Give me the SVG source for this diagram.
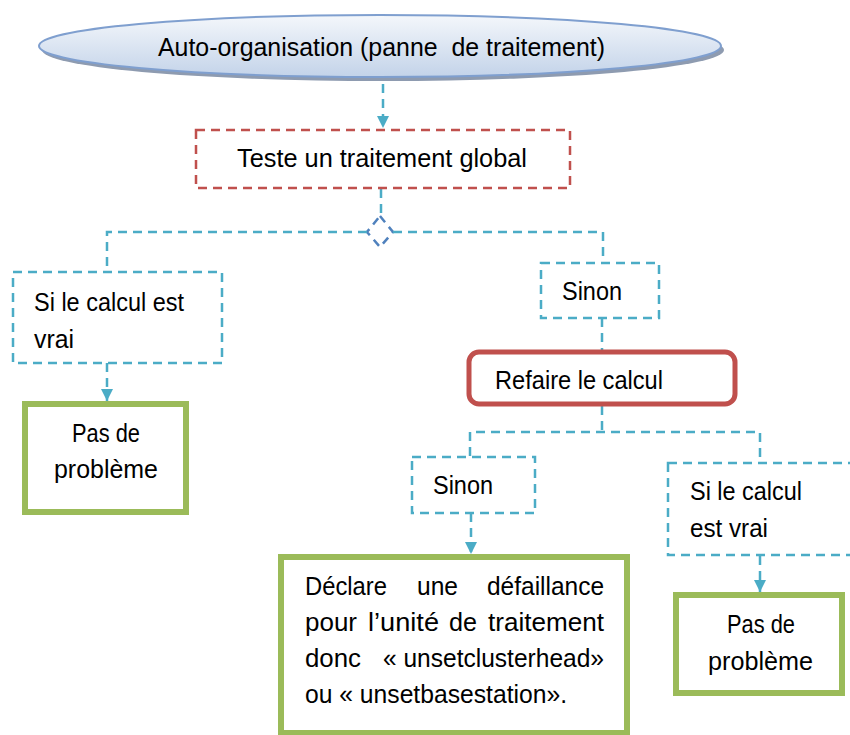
<svg xmlns="http://www.w3.org/2000/svg" width="850" height="735" viewBox="0 0 850 735">
<defs>
<linearGradient id="eg" x1="0" y1="0" x2="0" y2="1">
<stop offset="0" stop-color="#f4f7fb"/>
<stop offset="1" stop-color="#c3d3e9"/>
</linearGradient>
<marker id="ah" viewBox="0 0 10 10" refX="10" refY="5" markerWidth="5" markerHeight="5" markerUnits="strokeWidth" orient="auto">
<path d="M0,0 L10,5 L0,10 Z" fill="#4bacc6"/>
</marker>
<style>
.t{font-family:"Liberation Sans",Arial,sans-serif;font-size:25.5px;fill:#000}
.c{fill:none;stroke:#4bacc6;stroke-width:2.5;stroke-dasharray:9 6}
.db{fill:#fff;stroke:#4bacc6;stroke-width:2.5;stroke-dasharray:9 6}
.g{fill:#fff;stroke:#9bbb59;stroke-width:6}
</style>
</defs>
<rect width="850" height="735" fill="#fff"/>

<g id="connectors">
<line class="c" x1="383" y1="84" x2="383" y2="128" marker-end="url(#ah)"/>
<line class="c" x1="381" y1="189" x2="381" y2="216"/>
<polygon points="380,216 393,232 380,247 367,232" fill="none" stroke="#4f81bd" stroke-width="2.5" stroke-dasharray="8 6"/>
<polyline class="c" points="367,232 107,232 107,271"/>
<polyline class="c" points="393,232 603,232 603,263"/>
<line class="c" x1="107" y1="363" x2="107" y2="401" marker-end="url(#ah)"/>
<line class="c" x1="602" y1="318" x2="602" y2="350"/>
<line class="c" x1="602" y1="406" x2="602" y2="432"/>
<polyline class="c" points="470,456 470,432 760,432 760,462"/>
<line class="c" x1="471" y1="513" x2="471" y2="554" marker-end="url(#ah)"/>
<line class="c" x1="760" y1="556" x2="760" y2="592" marker-end="url(#ah)"/>
</g>

<g id="n-title">
<ellipse cx="383" cy="50" rx="341" ry="31" fill="#8e9bb0"/>
<ellipse cx="380" cy="46" rx="341" ry="31" fill="url(#eg)" stroke="#7f9fcf" stroke-width="2"/>
<text class="t" x="158" y="56" textLength="447" lengthAdjust="spacingAndGlyphs" xml:space="preserve">Auto-organisation (panne  de traitement)</text>
</g>

<g id="n-teste">
<rect x="196" y="130" width="374" height="58" fill="#fff" stroke="#c0504d" stroke-width="2.5" stroke-dasharray="9 6"/>
<text class="t" x="237" y="167" textLength="290" lengthAdjust="spacingAndGlyphs">Teste un traitement global</text>
</g>

<g id="n-si1">
<rect class="db" x="13" y="272" width="209" height="91"/>
<text class="t" x="34" y="311" textLength="150" lengthAdjust="spacingAndGlyphs">Si le calcul est</text>
<text class="t" x="34" y="348" textLength="40" lengthAdjust="spacingAndGlyphs">vrai</text>
</g>

<g id="n-pas1">
<rect class="g" x="25" y="404" width="161" height="108"/>
<text class="t" x="72" y="442" textLength="68" lengthAdjust="spacingAndGlyphs">Pas de</text>
<text class="t" x="54" y="478" textLength="104" lengthAdjust="spacingAndGlyphs">problème</text>
</g>

<g id="n-sinon1">
<rect class="db" x="541" y="263" width="118" height="55"/>
<text class="t" x="562" y="300" textLength="60" lengthAdjust="spacingAndGlyphs">Sinon</text>
</g>

<g id="n-refaire">
<rect x="469" y="352" width="266" height="52" rx="10" ry="10" fill="#fff" stroke="#c0504d" stroke-width="5"/>
<text class="t" x="495" y="389" textLength="168" lengthAdjust="spacingAndGlyphs">Refaire le calcul</text>
</g>

<g id="n-sinon2">
<rect class="db" x="412" y="457" width="123" height="56"/>
<text class="t" x="433" y="494" textLength="60" lengthAdjust="spacingAndGlyphs">Sinon</text>
</g>

<g id="n-si2">
<rect class="db" x="668" y="463" width="190" height="92"/>
<text class="t" x="690" y="500" textLength="112" lengthAdjust="spacingAndGlyphs">Si le calcul</text>
<text class="t" x="690" y="537" textLength="78" lengthAdjust="spacingAndGlyphs">est vrai</text>
</g>

<g id="n-declare">
<rect class="g" x="281" y="557" width="346" height="176"/>
<text class="t" x="305" y="595" textLength="82" lengthAdjust="spacingAndGlyphs">Déclare</text>
<text class="t" x="417" y="595" textLength="41" lengthAdjust="spacingAndGlyphs">une</text>
<text class="t" x="487" y="595" textLength="117" lengthAdjust="spacingAndGlyphs">défaillance</text>
<text class="t" x="305" y="631" textLength="52" lengthAdjust="spacingAndGlyphs">pour</text>
<text class="t" x="368" y="631" textLength="71" lengthAdjust="spacingAndGlyphs">l’unité</text>
<text class="t" x="449" y="631" textLength="28" lengthAdjust="spacingAndGlyphs">de</text>
<text class="t" x="488" y="631" textLength="116" lengthAdjust="spacingAndGlyphs">traitement</text>
<text class="t" x="305" y="667" textLength="56" lengthAdjust="spacingAndGlyphs">donc</text>
<text class="t" x="383" y="667" textLength="221" lengthAdjust="spacingAndGlyphs">« unsetclusterhead»</text>
<text class="t" x="305" y="703" textLength="262" lengthAdjust="spacingAndGlyphs">ou « unsetbasestation».</text>
</g>

<g id="n-pas2">
<rect class="g" x="676" y="595" width="166" height="98"/>
<text class="t" x="727" y="633" textLength="68" lengthAdjust="spacingAndGlyphs">Pas de</text>
<text class="t" x="708" y="670" textLength="105" lengthAdjust="spacingAndGlyphs">problème</text>
</g>
</svg>
